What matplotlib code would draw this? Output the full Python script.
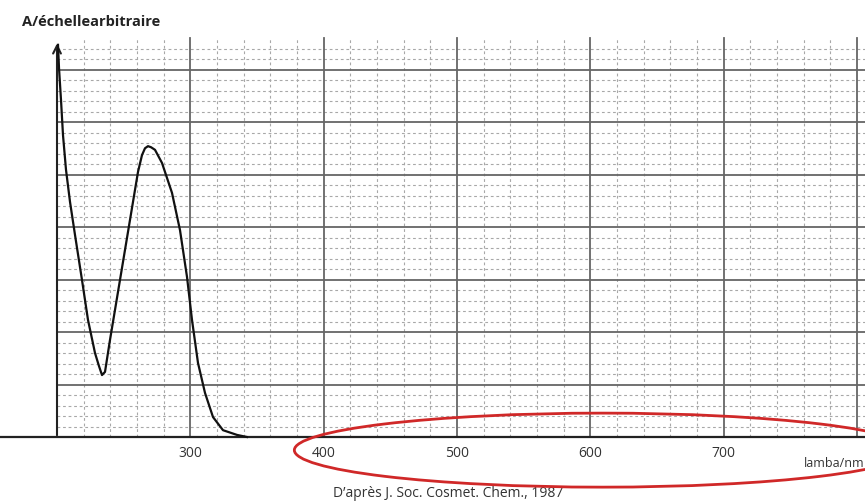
import numpy as np
import matplotlib.pyplot as plt
from matplotlib.patches import Ellipse

# spectre d'absorption (lambda en nm, A en unites de grille)
lam = [200.75, 201.5, 203, 204.5, 206.75, 209.75, 213.5, 218.75, 223.25, 228.5,
       231.5, 233.75, 236, 239.75, 245, 250.25, 255.5, 260.75, 263.75, 266,
       268.25, 270.5, 273.5, 278.75, 286.25, 292.25, 297.5, 301.25, 305.75, 311,
       317, 324.5, 335, 342.5]
absorb = [7.47, 7.03, 6.42, 5.75, 5.09, 4.48, 3.85, 2.99, 2.23, 1.60,
          1.35, 1.18, 1.24, 1.85, 2.65, 3.45, 4.25, 5.05, 5.37, 5.50,
          5.54, 5.52, 5.47, 5.22, 4.65, 3.94, 3.05, 2.23, 1.41, 0.84,
          0.38, 0.13, 0.04, 0.0]
xticks = [300, 400, 500, 600, 700]

fig = plt.figure(figsize=(8.65, 5.04), dpi=100)
ax = fig.add_axes([0, 0, 1, 1])
ax.set_xlim(157.25, 806.0)
ax.set_ylim(-1.276, 8.324)
ax.axis('off')

y_top = 7.6
x_right = 806

# grille mineure
for x in np.arange(220, 806, 20):
    if x % 100:
        ax.plot([x, x], [0, y_top], color='#a8a8a8', lw=0.8, ls=(0, (2.5, 2.5)), zorder=1)
for y in np.arange(0.2, 7.5, 0.2):
    if abs(y - round(y)) > 0.05:
        ax.plot([200, x_right], [y, y], color='#a8a8a8', lw=0.8, ls=(0, (2.5, 2.5)), zorder=1)

# grille majeure
for x in range(300, 806, 100):
    ax.plot([x, x], [0, y_top], color='#666666', lw=1.3, zorder=2)
for y in range(1, 8):
    ax.plot([200, x_right], [y, y], color='#666666', lw=1.3, zorder=2)

# axes
ax.plot([151, x_right], [0, 0], color='#222222', lw=1.6, zorder=3)
ax.annotate('', xy=(200, 7.55), xytext=(200, -0.02),
            arrowprops=dict(arrowstyle='->', color='#222222', lw=1.5, mutation_scale=14),
            zorder=3)

# courbe
ax.plot(lam, absorb, color='#111111', lw=1.6, zorder=4, solid_joinstyle='round')

# graduations
for t in xticks:
    ax.text(t, -0.32, str(t), ha='center', va='center', fontsize=10,
            color='#333333', family='Open Sans')

ax.text(22 / 1.3333 + 157.25, 7.9, 'A/échellearbitraire', fontsize=10.5,
        fontweight='bold', color='#222222', ha='left', va='center', family='Open Sans')
ax.text(806, -0.5, 'lamba/nm', fontsize=9, color='#333333', ha='right', va='center',
        family='Open Sans')
ax.text(200 + (448 - 57) / 1.3333, -1.07, 'D\u2019après J. Soc. Cosmet. Chem., 1987',
        fontsize=10, color='#333333', ha='center', va='center', family='Open Sans')

# ellipse rouge
ax.add_patch(Ellipse((609, -0.25), 462, 1.41, fill=False, edgecolor='#d02828',
                     lw=2, zorder=5))

fig.savefig('out.png', dpi=100)
